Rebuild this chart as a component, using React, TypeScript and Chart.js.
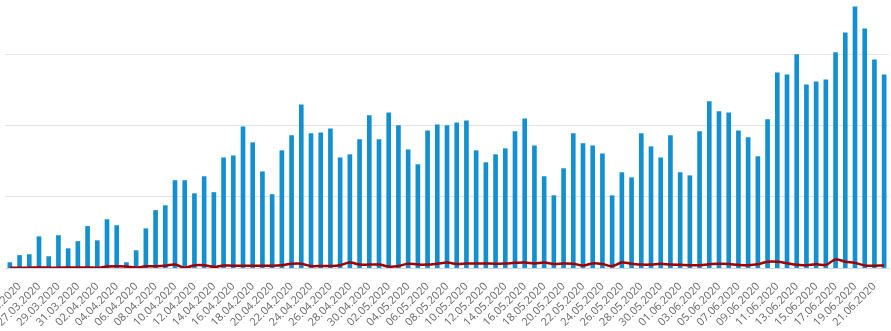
import React, { useEffect, useRef } from "react";
import { Chart, registerables } from "chart.js";

Chart.register(...registerables);

const dates = [
  "24.03.2020", "25.03.2020", "26.03.2020", "27.03.2020", "28.03.2020", "29.03.2020", "30.03.2020", "31.03.2020",
  "01.04.2020", "02.04.2020", "03.04.2020", "04.04.2020", "05.04.2020", "06.04.2020", "07.04.2020", "08.04.2020",
  "09.04.2020", "10.04.2020", "11.04.2020", "12.04.2020", "13.04.2020", "14.04.2020", "15.04.2020", "16.04.2020",
  "17.04.2020", "18.04.2020", "19.04.2020", "20.04.2020", "21.04.2020", "22.04.2020", "23.04.2020", "24.04.2020",
  "25.04.2020", "26.04.2020", "27.04.2020", "28.04.2020", "29.04.2020", "30.04.2020",
  "01.05.2020", "02.05.2020", "03.05.2020", "04.05.2020", "05.05.2020", "06.05.2020", "07.05.2020", "08.05.2020",
  "09.05.2020", "10.05.2020", "11.05.2020", "12.05.2020", "13.05.2020", "14.05.2020", "15.05.2020", "16.05.2020",
  "17.05.2020", "18.05.2020", "19.05.2020", "20.05.2020", "21.05.2020", "22.05.2020", "23.05.2020", "24.05.2020",
  "25.05.2020", "26.05.2020", "27.05.2020", "28.05.2020", "29.05.2020", "30.05.2020", "31.05.2020",
  "01.06.2020", "02.06.2020", "03.06.2020", "04.06.2020", "05.06.2020", "06.06.2020", "07.06.2020", "08.06.2020",
  "09.06.2020", "10.06.2020", "11.06.2020", "12.06.2020", "13.06.2020", "14.06.2020", "15.06.2020", "16.06.2020",
  "17.06.2020", "18.06.2020", "19.06.2020", "20.06.2020", "21.06.2020", "22.06.2020",
];

const cases = [
  19, 44, 47, 110, 40, 114, 68, 93, 146, 96,
  170, 149, 19, 61, 138, 202, 219, 307, 307, 261,
  321, 265, 387, 394, 496, 440, 338, 258, 412, 465,
  573, 472, 475, 489, 387, 398, 451, 535, 451, 545,
  500, 415, 363, 482, 503, 500, 510, 517, 412, 370,
  398, 419, 479, 524, 429, 321, 254, 349, 472, 437,
  429, 401, 254, 335, 317, 472, 426, 387, 465, 335,
  324, 479, 584, 549, 545, 482, 458, 391, 521, 685,
  678, 749, 643, 654, 661, 756, 826, 917, 840, 731,
  678,
];

const deaths = [
  1, 1, 1, 2, 1, 1, 2, 2, 2, 1,
  5, 6, 5, 2, 6, 6, 8, 12, 1, 10,
  10, 4, 9, 8, 8, 8, 8, 8, 10, 15,
  15, 7, 7, 7, 10, 19, 12, 12, 12, 5,
  7, 15, 12, 12, 15, 19, 14, 16, 16, 16,
  15, 16, 18, 19, 16, 19, 14, 16, 15, 9,
  16, 14, 7, 19, 15, 12, 12, 15, 12, 11,
  10, 10, 13, 15, 14, 11, 10, 13, 22, 22,
  17, 11, 10, 13, 11, 30, 22, 18, 9, 8,
  9,
];

const gridValues = [250, 500, 750];
const yMax = 941;

export default function App() {
  const ref = useRef<HTMLCanvasElement>(null);

  useEffect(() => {
    document.body.style.margin = "0";
    const chart = new Chart(ref.current as HTMLCanvasElement, {
      type: "bar",
      data: {
        labels: dates,
        datasets: [
          {
            type: "line",
            data: deaths,
            borderColor: "#a00000",
            borderWidth: 2.5,
            pointRadius: 0,
            tension: 0.4,
            fill: false,
            order: 0,
          } as any,
          {
            type: "bar",
            data: cases,
            backgroundColor: "#1490d0",
            barThickness: 4,
            order: 1,
          } as any,
        ],
      },
      options: {
        animation: false,
        responsive: false,
        maintainAspectRatio: false,
        layout: { padding: { left: 5, right: 2, top: 0, bottom: 0 } },
        plugins: { legend: { display: false }, tooltip: { enabled: false } },
        scales: {
          x: {
            grid: { display: false },
            border: { display: true, color: "#ccd6eb", width: 1 },
            ticks: {
              autoSkip: false,
              maxRotation: 45,
              minRotation: 45,
              padding: 4,
              color: "#666666",
              font: { family: "Open Sans", size: 11 },
              callback: (_v: any, i: number) => (i % 2 === 1 ? dates[i] : ""),
            },
            afterFit: (s: any) => {
              s.height = 63;
              s.paddingLeft = 0;
              s.paddingRight = 0;
            },
          },
          y: {
            display: true,
            min: 0,
            max: yMax,
            ticks: { display: false },
            border: { display: false },
            grid: {
              display: true,
              drawTicks: false,
              drawOnChartArea: true,
              color: "#e3e3e3",
              lineWidth: 1,
            },
            afterBuildTicks: (s: any) => {
              s.ticks = gridValues.map((v) => ({ value: v }));
            },
            afterFit: (s: any) => {
              s.width = 0;
            },
          },
        },
      },
    });
    return () => chart.destroy();
  }, []);

  return <canvas ref={ref} width={891} height={331} style={{ display: "block" }} />;
}
